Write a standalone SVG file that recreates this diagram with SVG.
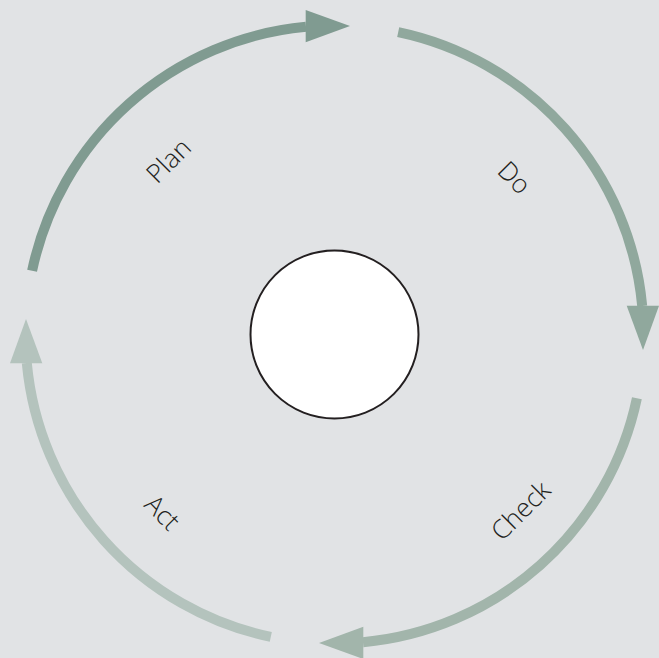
<svg xmlns="http://www.w3.org/2000/svg" width="659" height="658" viewBox="0 0 659 658">
<style>
.arc{fill:none;stroke-width:10;stroke-linecap:butt}
.lbl{font-family:"Open Sans","Noto Sans","Liberation Sans",sans-serif;font-size:26px;font-weight:300;fill:#231f20;text-anchor:middle;dominant-baseline:central}
</style>
<rect width="659" height="658" fill="#e1e3e5"/>
<g id="connectors">
  <g id="plan-arrow" fill="#809b91" stroke="#809b91">
    <path class="arc" d="M32.1,270.8 A309,309 0 0 1 306,26.8"/>
    <polygon stroke="none" points="305.7,10 350,26 305.7,42.3"/>
  </g>
  <g id="do-arrow" fill="#90a89d" stroke="#90a89d" transform="rotate(90 334.5 334.5)">
    <path class="arc" d="M32.1,270.8 A309,309 0 0 1 306,26.8"/>
    <polygon stroke="none" points="305.7,10 350,26 305.7,42.3"/>
  </g>
  <g id="check-arrow" fill="#a2b5ab" stroke="#a2b5ab" transform="rotate(180 334.5 334.5)">
    <path class="arc" d="M32.1,270.8 A309,309 0 0 1 306,26.8"/>
    <polygon stroke="none" points="305.7,10 350,26 305.7,42.3"/>
  </g>
  <g id="act-arrow" fill="#b4c3bd" stroke="#b4c3bd" transform="rotate(270 334.5 334.5)">
    <path class="arc" d="M32.1,270.8 A309,309 0 0 1 306,26.8"/>
    <polygon stroke="none" points="305.7,10 350,26 305.7,42.3"/>
  </g>
</g>
<g id="center">
  <circle cx="334.5" cy="334.5" r="84" fill="#ffffff" stroke="#231f20" stroke-width="2"/>
</g>
<g id="plan"><text class="lbl" transform="translate(168,160) rotate(-45)">Plan</text></g>
<g id="do"><text class="lbl" transform="translate(515,177) rotate(45)">Do</text></g>
<g id="check"><text class="lbl" transform="translate(520,510) rotate(-45)">Check</text></g>
<g id="act"><text class="lbl" transform="translate(163,512) rotate(45)">Act</text></g>
</svg>
